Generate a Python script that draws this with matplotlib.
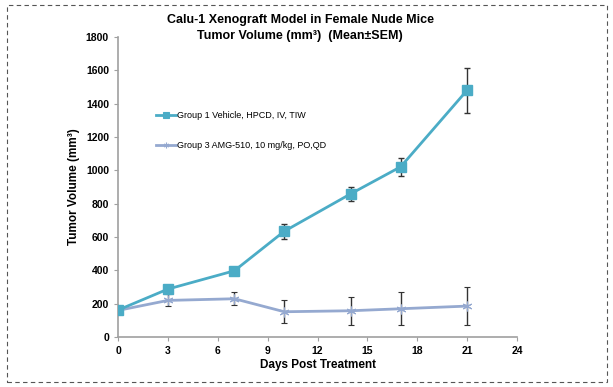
import numpy as np
import matplotlib.pyplot as plt
from matplotlib.patches import Rectangle
from matplotlib.lines import Line2D

# data
days = [0, 3, 7, 10, 14, 17, 21]
vehicle = [162, 288, 398, 635, 860, 1022, 1482]
vehicle_err = [12, 22, 22, 45, 42, 55, 135]
amg = [160, 220, 230, 152, 158, 170, 186]
amg_err = [15, 36, 40, 68, 84, 98, 112]

labels = ['Group 1 Vehicle, HPCD, IV, TIW',
          'Group 3 AMG-510, 10 mg/kg, PO,QD']
colors = ['#4BACC6', '#95A9D0']
markers = ['s', (6, 2, 0)]

plt.rc('font', family='Liberation Sans', weight='bold', size=7)

fig = plt.figure(figsize=(6.13, 3.87), dpi=100)
ax = fig.add_axes([0.1925, 0.129, 0.651, 0.775])

# dashed frame around the whole figure
fig.patches.append(Rectangle((0.012, 0.012), 0.978, 0.976, transform=fig.transFigure,
                             fill=False, edgecolor='#555555', linestyle=(0, (4, 3)),
                             linewidth=0.8))

ax.errorbar(days, vehicle, yerr=vehicle_err, color=colors[0], linewidth=2,
            marker=markers[0], markersize=6.5, ecolor='#333333', elinewidth=1,
            capsize=2.5, capthick=1, zorder=3)
ax.errorbar(days, amg, yerr=amg_err, color=colors[1], linewidth=2,
            marker=markers[1], markersize=7, markeredgewidth=0.8,
            ecolor='#333333', elinewidth=1, capsize=2.5, capthick=1, zorder=2)

ax.set_xlim(0, 24)
ax.set_ylim(0, 1800)
ax.set_xticks(np.arange(0, 25, 3))
ax.set_yticks(np.arange(0, 1801, 200))
ax.spines['top'].set_visible(False)
ax.spines['right'].set_visible(False)
for s in ['left', 'bottom']:
    ax.spines[s].set_color('#a0a0a0')
    ax.spines[s].set_linewidth(1.2)
ax.tick_params(direction='out', length=3, color='#a0a0a0', labelsize=7.5)

ax.set_xlabel('Days Post Treatment', fontsize=8.5, fontweight='bold', labelpad=2)
ax.set_ylabel('Tumor Volume (mm³)', fontsize=8.5, fontweight='bold')
fig.text(0.49, 0.928, 'Calu-1 Xenograft Model in Female Nude Mice\nTumor Volume (mm³)  (Mean±SEM)',
         ha='center', va='center', fontsize=9, fontweight='bold', linespacing=1.5)

handles = [Line2D([], [], color=c, marker=m, markersize=4, linewidth=2, markeredgewidth=0.8)
           for c, m in zip(colors, markers)]
ax.legend(handles, labels, loc='upper left', bbox_to_anchor=(0.075, 0.78),
          frameon=False, prop={'size': 6.5, 'weight': 'normal'},
          labelspacing=2.3, handlelength=2.2, handletextpad=0.1)

fig.savefig('out.png', dpi=100)
